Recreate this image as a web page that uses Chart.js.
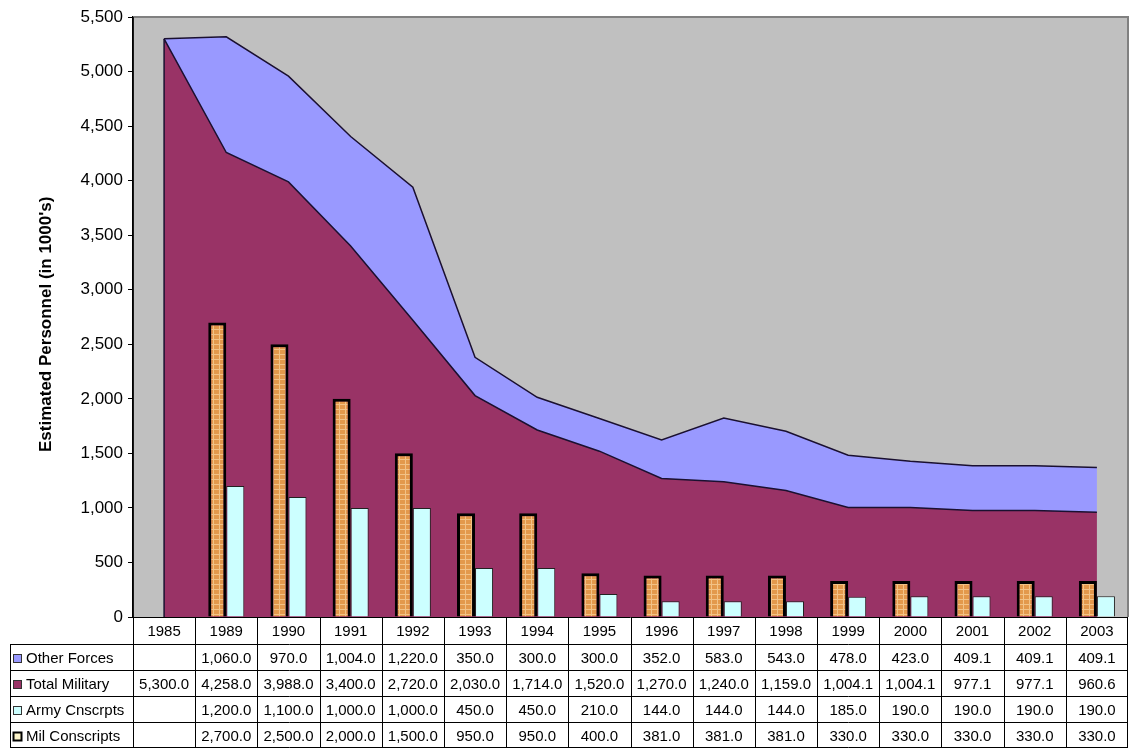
<!DOCTYPE html>
<html>
<head>
<meta charset="utf-8">
<script src="https://cdn.jsdelivr.net/npm/chart.js@4.4.0/dist/chart.umd.min.js"></script>
<style>
html,body{margin:0;padding:0;background:#fff;}
#wrap{position:relative;width:1136px;height:749px;}
</style>
</head>
<body>
<div id="wrap"><canvas id="c" width="1136" height="749"></canvas></div>
<script>
const years = ['1985','1989','1990','1991','1992','1993','1994','1995','1996','1997','1998','1999','2000','2001','2002','2003'];
const otherForces   = [null,1060,970,1004,1220,350,300,300,352,583,543,478,423,409.1,409.1,409.1];
const totalMilitary = [5300,4258,3988,3400,2720,2030,1714,1520,1270,1240,1159,1004.1,1004.1,977.1,977.1,960.6];
const armyConscripts = [null,1200,1100,1000,1000,450,450,210,144,144,144,185,190,190,190,190];
const milConscripts  = [null,2700,2500,2000,1500,950,950,400,381,381,381,330,330,330,330,330];
const yTitle = "Estimated Personnel (in 1000's)";
const rowLabels = ['Other Forces','Total Military','Army Cnscrpts','Mil Conscripts'];

const FONT = '"Liberation Sans", Arial, sans-serif';
const C_OTHER = '#9999ff', C_TOTAL = '#993366', C_ARMY = '#ccffff', C_BG = '#c0c0c0';

function makePattern(){
  const p = document.createElement('canvas'); p.width = 6; p.height = 5;
  const g = p.getContext('2d');
  g.fillStyle = '#e3994c'; g.fillRect(0,0,6,5);
  g.fillStyle = '#f2c286'; g.fillRect(3,0,1,5); g.fillRect(0,4,6,1);
  return g.createPattern(p,'repeat');
}
const milPattern = makePattern();

function fmt(v){
  if (v === null || v === undefined) return '';
  return v.toLocaleString('en-US',{minimumFractionDigits:1,maximumFractionDigits:1});
}

const decor = {
  id:'decor',
  beforeDraw(chart){
    const {ctx, chartArea:a} = chart;
    ctx.save();
    ctx.fillStyle = C_BG;
    ctx.fillRect(a.left, a.top, a.right-a.left, a.bottom-a.top);
    ctx.restore();
  },
  afterDatasetsDraw(chart){
    const {ctx} = chart;
    const xs = chart.scales.x, ys = chart.scales.y;
    const x0 = xs.getPixelForValue(0);
    ctx.save();
    ctx.strokeStyle = '#1a1030'; ctx.lineWidth = 1.5;
    ctx.beginPath();
    ctx.moveTo(x0, ys.getPixelForValue(totalMilitary[0]));
    ctx.lineTo(x0, ys.getPixelForValue(0));
    ctx.stroke();
    ctx.restore();
  },
  afterDraw(chart){
    const {ctx, chartArea:a} = chart;
    const xs = chart.scales.x;
    ctx.save();
    ctx.strokeStyle = '#808080'; ctx.lineWidth = 2;
    ctx.beginPath();
    ctx.moveTo(a.left, a.top); ctx.lineTo(a.right, a.top); ctx.lineTo(a.right, a.bottom);
    ctx.stroke();
    ctx.strokeStyle = '#000'; ctx.lineWidth = 1.5;
    ctx.beginPath(); ctx.moveTo(a.left, a.top); ctx.lineTo(a.left, a.bottom); ctx.stroke();

    // axis title
    ctx.save();
    ctx.translate(46, 452);
    ctx.rotate(-Math.PI/2);
    ctx.fillStyle = '#000';
    ctx.font = 'bold 17px ' + FONT;
    ctx.textAlign = 'left'; ctx.textBaseline = 'middle';
    ctx.fillText(yTitle, 0, 0);
    ctx.restore();

    // data table
    const n = years.length;
    const half = (xs.getPixelForValue(1) - xs.getPixelForValue(0)) / 2;
    const top = Math.round(a.bottom);
    const hdrB = top + 27;
    const rowH = 26;
    const bottom = hdrB + 4*rowH;
    const legL = 10;
    const r = v => Math.round(v) + 0.5;
    ctx.fillStyle = '#fff';
    ctx.fillRect(a.left, top+1, a.right - a.left, bottom - top);
    ctx.fillRect(legL, hdrB, a.left - legL, bottom - hdrB);
    ctx.strokeStyle = '#000'; ctx.lineWidth = 1;
    ctx.beginPath();
    ctx.moveTo(a.left, r(top)); ctx.lineTo(a.right, r(top));
    for (let k = 0; k <= 4; k++) {
      const y = r(hdrB + k*rowH) - (k === 4 ? 1 : 0);
      ctx.moveTo(legL, y); ctx.lineTo(a.right, y);
    }
    for (let i = 0; i <= n; i++) {
      const x = r((i < n ? xs.getPixelForValue(i) - half : xs.getPixelForValue(n-1) + half)) - (i === n ? 1 : 0);
      ctx.moveTo(x, top); ctx.lineTo(x, bottom);
    }
    ctx.moveTo(r(legL), hdrB); ctx.lineTo(r(legL), bottom);
    ctx.stroke();

    ctx.fillStyle = '#000';
    ctx.font = '15px ' + FONT;
    ctx.textAlign = 'center'; ctx.textBaseline = 'middle';
    for (let i = 0; i < n; i++) {
      ctx.fillText(years[i], xs.getPixelForValue(i), (top + hdrB)/2 + 1);
    }
    const rowsData = [otherForces, totalMilitary, armyConscripts, milConscripts];
    const keyFill = [C_OTHER, C_TOTAL, C_ARMY, '#fbf3c8'];
    for (let k = 0; k < 4; k++) {
      const cy = hdrB + k*rowH + rowH/2 + 1.5;
      for (let i = 0; i < n; i++) {
        ctx.fillStyle = '#000';
        ctx.textAlign = 'center';
        ctx.fillText(fmt(rowsData[k][i]), xs.getPixelForValue(i), cy);
      }
      const kx = 13, ky = Math.round(cy - 5);
      ctx.fillStyle = keyFill[k];
      ctx.fillRect(kx, ky, 9, 9);
      ctx.strokeStyle = k === 3 ? '#000' : '#333';
      ctx.lineWidth = k === 3 ? 2 : 1;
      ctx.strokeRect(kx + 0.5, ky + 0.5, 8, 8);
      ctx.fillStyle = '#000';
      ctx.textAlign = 'left';
      ctx.fillText(rowLabels[k], 26, cy);
    }
    ctx.restore();
  }
};

new Chart(document.getElementById('c'), {
  data: {
    labels: years,
    datasets: [
      {
        type:'line', label: rowLabels[1], data: totalMilitary, stack:'area', order:2,
        fill:'origin', backgroundColor: C_TOTAL, borderColor:'#1a1030', borderWidth:1.5,
        pointRadius:0, tension:0
      },
      {
        type:'line', label: rowLabels[0], data: otherForces.map(v => v === null ? 0 : v), stack:'area', order:2,
        fill:'-1', backgroundColor: C_OTHER, borderColor:'#1a1030', borderWidth:1.5,
        pointRadius:0, tension:0
      },
      {
        type:'bar', label: rowLabels[3], data: milConscripts, stack:'mil', order:1,
        backgroundColor: milPattern, borderColor:'#000', borderWidth:3,
        categoryPercentage:0.58, barPercentage:1
      },
      {
        type:'bar', label: rowLabels[2], data: armyConscripts, stack:'army', order:1,
        backgroundColor: C_ARMY, borderColor:'#222', borderWidth:1,
        categoryPercentage:0.58, barPercentage:1
      }
    ]
  },
  options: {
    responsive:false,
    animation:false,
    layout:{ padding:{ left:0, right:8, top:17, bottom:132 } },
    plugins:{ legend:{display:false}, tooltip:{enabled:false}, title:{display:false} },
    scales:{
      x:{ display:false, offset:true, stacked:true },
      y:{
        stacked:true, min:0, max:5500,
        afterFit(s){ s.width = 133; },
        grid:{ drawOnChartArea:false, color:'#000', tickLength:5, tickColor:'#000' },
        border:{ display:true, color:'#000', width:1.5 },
        ticks:{ stepSize:500, color:'#000', padding:5, font:{ family: FONT, size:17 },
                callback: v => v.toLocaleString('en-US') }
      }
    }
  },
  plugins:[decor]
});
</script>
</body>
</html>
